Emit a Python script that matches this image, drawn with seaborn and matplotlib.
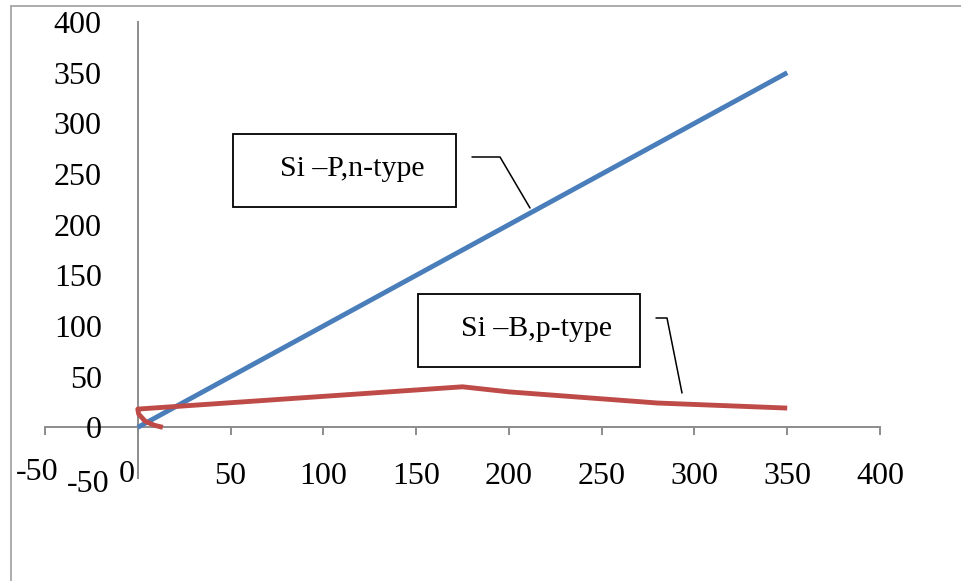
import matplotlib
matplotlib.use("Agg")
import matplotlib.pyplot as plt
import matplotlib.transforms as mtransforms
import seaborn as sns
from matplotlib.lines import Line2D

# Series data
n_type_x = [0, 175, 200, 350]
n_type_y = [0, 175, 200, 350]

p_type_x = [13.5, 9, 4, 0.5, 0, 175, 200, 280, 350]
p_type_y = [0, 2, 6, 13, 18, 40, 35, 24, 19]

tick_values = [-50, 0, 50, 100, 150, 200, 250, 300, 350, 400]
tick_labels = ["-50", "0", "50", "100", "150", "200", "250", "300", "350", "400"]

label_n = "Si \u2013P,n-type"
label_p = "Si \u2013B,p-type"

sns.set_style("white")
plt.rcParams["font.family"] = ["Liberation Serif", "DejaVu Serif"]
plt.rcParams["text.color"] = "black"
plt.rcParams["xtick.labelcolor"] = "black"
plt.rcParams["ytick.labelcolor"] = "black"

W, H = 962, 581
fig = plt.figure(figsize=(W / 100, H / 100), dpi=100)

# outer chart border (clipped on the right and bottom)
fig.add_artist(Line2D([11 / W, 11 / W], [0, 1 - 6 / H], color="#a6a6a6", lw=1.3))
fig.add_artist(Line2D([11 / W, 1], [1 - 6 / H, 1 - 6 / H], color="#a6a6a6", lw=1.3))

ax = fig.add_axes([45 / W, 1 - 478 / H, (880 - 45) / W, (478 - 22) / H])
ax.set_facecolor("none")

sns.lineplot(x=n_type_x, y=n_type_y, sort=False, estimator=None, ax=ax,
             color="#4a7ebb", lw=3.5, solid_capstyle="butt")
sns.lineplot(x=p_type_x, y=p_type_y, sort=False, estimator=None, ax=ax,
             color="#be4b48", lw=3.5, solid_capstyle="butt")

ax.set_xlim(-50, 400)
ax.set_ylim(-50, 400)

for side in ("top", "right"):
    ax.spines[side].set_visible(False)
for side in ("left", "bottom"):
    ax.spines[side].set_position(("data", 0))
    ax.spines[side].set_color("#8c8c8c")
    ax.spines[side].set_linewidth(1.4)
    ax.spines[side].set_zorder(0)

ax.set_xticks(tick_values)
ax.set_xticklabels(tick_labels)
ax.set_yticks(tick_values)
ax.set_yticklabels(tick_labels)

ax.tick_params(axis="x", direction="out", length=6, width=1.4, color="#8c8c8c",
               pad=19, labelsize=23, labelcolor="black", bottom=True)
ax.tick_params(axis="y", length=0, pad=26, labelsize=23, labelcolor="black", left=True)
ax.grid(False)

# nudge the labels that crowd around the origin
def nudge(label, dx_px, dy_px):
    off = mtransforms.ScaledTranslation(dx_px / 100, -dy_px / 100, fig.dpi_scale_trans)
    label.set_transform(label.get_transform() + off)

xlabels = ax.get_xticklabels()
ylabels = ax.get_yticklabels()
nudge(xlabels[0], -8, -4)
nudge(xlabels[1], -11, -2)
nudge(ylabels[0], 8, 3)


def to_fig(px, py):
    return px / W, 1 - py / H


def callout(box, pts, text):
    x0, y0, x1, y1 = box
    bx, by = to_fig(x0, y1)
    fig.add_artist(plt.Rectangle((bx, by), (x1 - x0) / W, (y1 - y0) / H,
                                 transform=fig.transFigure, fill=False,
                                 ec="black", lw=1.3))
    xs = [p[0] / W for p in pts]
    ys = [1 - p[1] / H for p in pts]
    fig.add_artist(Line2D(xs, ys, color="black", lw=1.1))
    tx, ty = to_fig((x0 + x1) / 2 + 8, (y0 + y1) / 2 - 2)
    fig.text(tx, ty, text, ha="center", va="center", fontsize=21.5, color="black")


callout((233, 134, 456, 207), [(472, 157), (500, 157), (530, 208)], label_n)
callout((418, 294, 640, 367), [(656, 318), (667, 318), (682, 393)], label_p)

fig.savefig("out.png", dpi=100)
